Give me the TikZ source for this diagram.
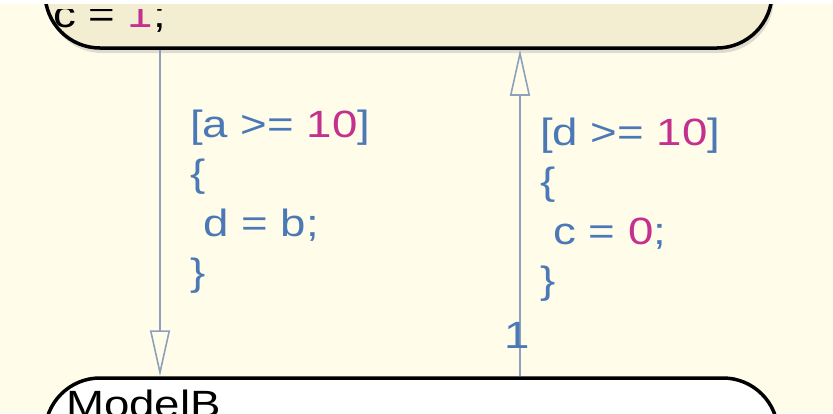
\documentclass[tikz,border=0pt]{standalone}
\usepackage{fontspec}
\setmainfont{Liberation Sans}[FakeStretch=1.2]
\usetikzlibrary{arrows.meta, shadows}

\definecolor{chartbg}{HTML}{FFFCEA}
\definecolor{statefill}{HTML}{F3EDD1}
\definecolor{transline}{HTML}{8DA1BC}
\definecolor{labelblue}{HTML}{4B79B5}
\definecolor{numpink}{HTML}{C3308D}

\newcommand{\numtxt}[1]{\textcolor{numpink}{#1}}

\pgfkeys{/tikz/.cd,
    chart style/.style={
        x=1pt, y=-1pt,     % pixel grid, y pointing down
        line join=round,
        >={Triangle[open, length=46pt, width=20pt]}
    },
    state box/.style={draw=black, line width=3.5pt, rounded corners=55pt, inner sep=0pt},
    trans line/.style={draw=transline, line width=1.6pt},
    label text/.style={font=\fontsize{38}{49.5}\selectfont, text=labelblue,
        align=left, inner sep=0pt, anchor=base west},
    state text/.style={font=\fontsize{38}{49.5}\selectfont, text=black,
        inner sep=0pt, anchor=base west}
}

\begin{document}
\begin{tikzpicture}[chart style]

    % --- 1. canvas ---
    \fill[chartbg] (0,0) rectangle (833,413);
    \useasboundingbox (0,0) rectangle (833,413);
    \clip (0,0) rectangle (833,413);

    % --- 2. states ---
    \node[state box, fill=statefill, minimum width=727pt, minimum height=248pt,
        drop shadow={shadow xshift=2pt, shadow yshift=-5pt, opacity=0.25}] (stateTop) at (408.5,-76) {};
    \node[state box, fill=white, minimum width=733pt, minimum height=242pt,
        drop shadow={shadow xshift=2pt, shadow yshift=-5pt, opacity=0.2}] (stateBottom) at (411.5,499) {};

    \begin{scope}
        \clip (0,9.5) rectangle (833,413);   % top line of the upper state is cut off
        \node[state text] (textTop) at (53,27) {c = \numtxt{1};};
    \end{scope}
    \node[state text] (textBottom) at (66,417) {ModelB};
    \fill[white] (0,0) rectangle (833,4);

    % --- 3. transitions ---
    \coordinate (srcL) at (160,0);
    \coordinate (srcR) at (520,0);

    \draw[trans line, ->] (stateTop.south -| srcL) -- (stateBottom.north -| srcL);
    \draw[trans line, ->] (stateBottom.north -| srcR) -- (stateTop.south -| srcR);

    % --- 4. labels (anchor = baseline of last line) ---
    \node[label text] (guardL) at (190,285.5) {[a >= \numtxt{10}]\\\{\\\hspace*{0.35em}d = b;\\\}};
    \node[label text] (guardR) at (540,293.5) {[d >= \numtxt{10}]\\\{\\\hspace*{0.35em}c = \numtxt{0};\\\}};
    \node[label text, anchor=base] (order_1) at (517,348) {1};

\end{tikzpicture}
\end{document}
